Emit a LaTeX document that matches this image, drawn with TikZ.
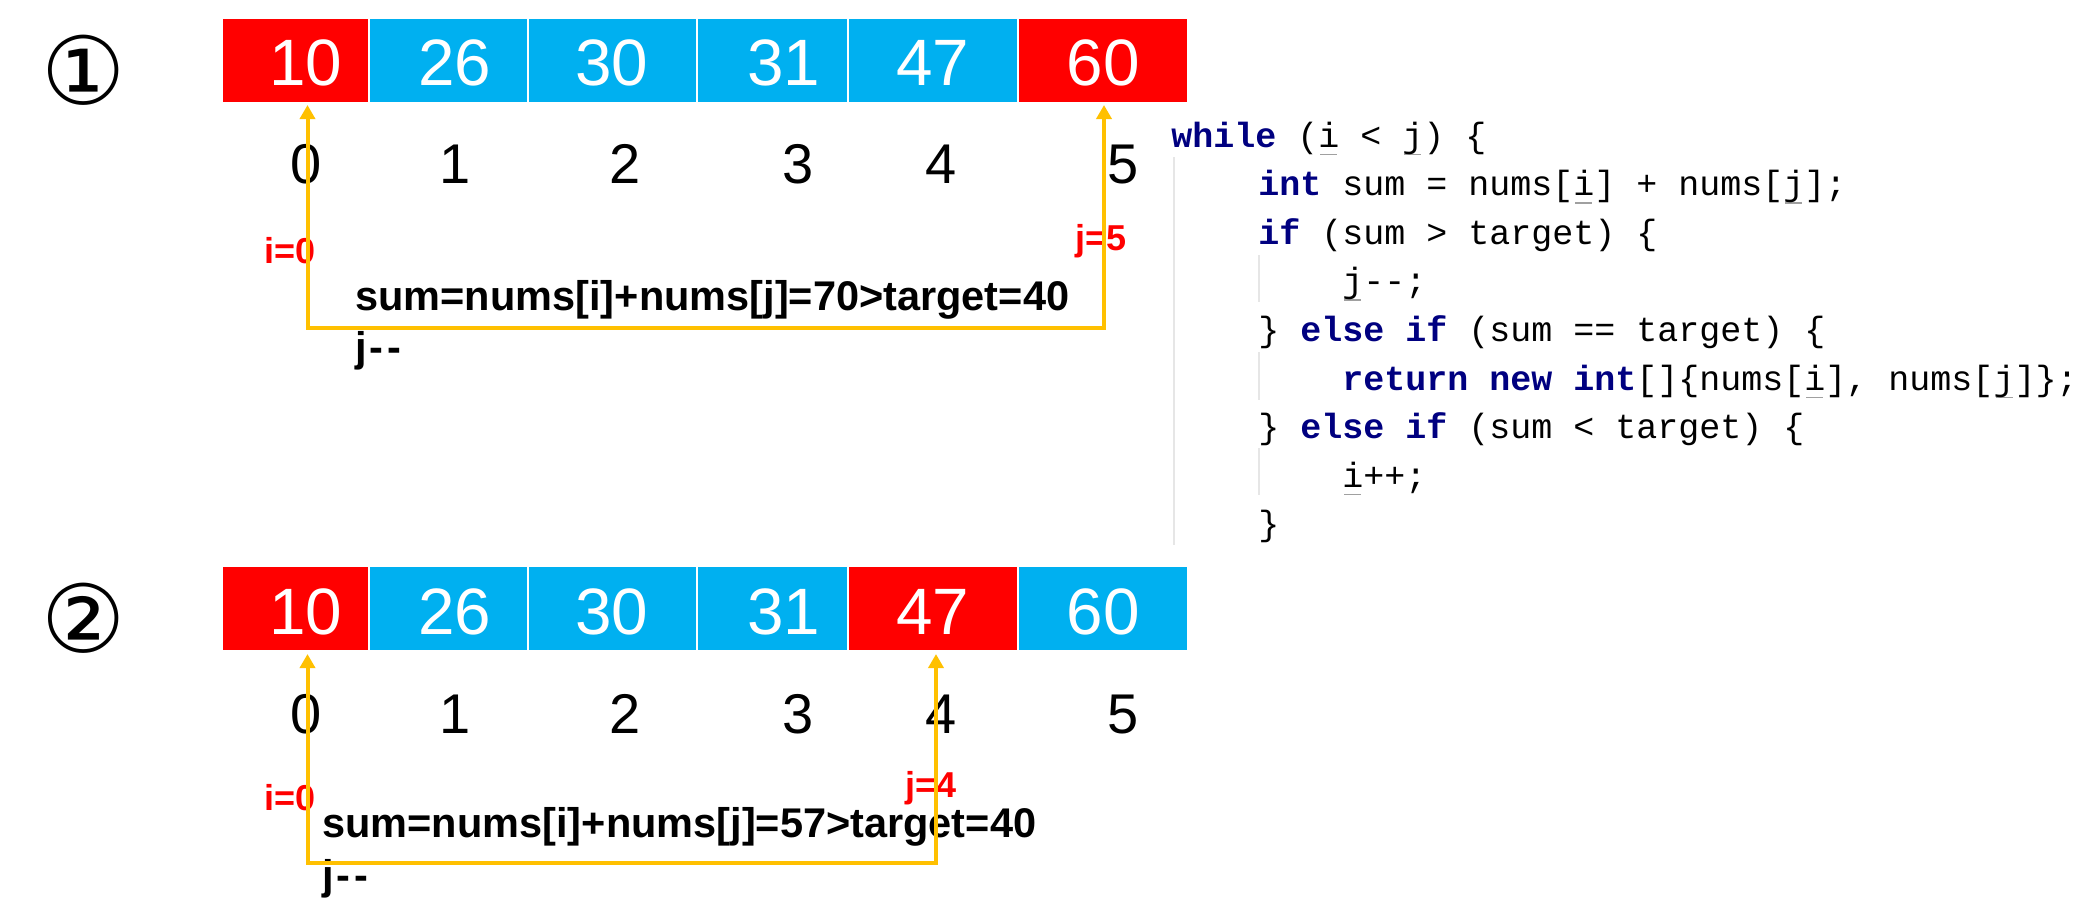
\documentclass[tikz,border=0pt]{standalone}
\usepackage{fontspec}
\setmainfont{Liberation Sans}
\newfontfamily\codefont{Liberation Mono}
\newfontfamily\circfont{DejaVu Sans}
\usetikzlibrary{arrows.meta}
\definecolor{cred}{HTML}{FF0000}
\definecolor{cblue}{HTML}{00B0F0}
\definecolor{cyel}{HTML}{FFC000}
\definecolor{kw}{HTML}{000080}
\definecolor{guide}{HTML}{E6E6E6}
\definecolor{ulgray}{HTML}{A0A0A0}
\newcommand\kwd[1]{\textcolor{kw}{\bfseries #1}}
\newcommand\ulc[1]{\leavevmode\rlap{\kern1pt\textcolor{ulgray}{\rule[-4pt]{8.5pt}{0.7pt}}}#1}
\tikzset{
  cell/.style={rectangle, draw=white, line width=1pt, inner sep=0pt, minimum height=42.5pt},
  num/.style={text=white, font=\fontsize{32.8}{36}\selectfont, anchor=base, inner sep=0pt},
  idx/.style={font=\fontsize{28}{30}\selectfont, anchor=base, inner sep=0pt},
  lab/.style={text=cred, font=\bfseries\fontsize{18}{20}\selectfont, anchor=base west, inner sep=0pt},
  sumtxt/.style={font=\bfseries\fontsize{20.75}{24}\selectfont, anchor=base west, inner sep=0pt},
  code/.style={font=\codefont\fontsize{17.5}{20}\selectfont, anchor=base west, inner sep=0pt},
  circ/.style={font=\circfont\fontsize{47}{47}\selectfont, inner sep=0pt},
  yarrow/.style={draw=cyel, line width=2pt, arrows={Triangle[width=7.5pt,length=7pt]-Triangle[width=7.5pt,length=7pt]}},
  guideline/.style={draw=guide, line width=0.6pt}
}
\begin{document}
\begin{tikzpicture}[x=0.5pt,y=-0.5pt]
\useasboundingbox (0,0) rectangle (2095,923);
% ---------- part 1 ----------
\node[circ] (s1) at (84,70) {①};
\node[cell, fill=cred,  minimum width=73.5pt] (c11) at (295.5,60.5) {};
\node[cell, fill=cblue, minimum width=79.5pt] (c12) at (448.5,60.5) {};
\node[cell, fill=cblue, minimum width=84.5pt] (c13) at (612.5,60.5) {};
\node[cell, fill=cblue, minimum width=75.5pt] (c14) at (772.5,60.5) {};
\node[cell, fill=cblue, minimum width=85pt]   (c15) at (933,60.5) {};
\node[cell, fill=cred,  minimum width=85pt]   (c16) at (1103,60.5) {};
\node[num] (n11) at (306,85) {10};
\node[num] (n12) at (455,85) {26};
\node[num] (n13) at (612,85) {30};
\node[num] (n14) at (784,85) {31};
\node[num] (n15) at (933,85) {47};
\node[num] (n16) at (1103,85) {60};
\node[idx] (x10) at (306,183) {0};
\node[idx] (x11) at (455,183) {1};
\node[idx] (x12) at (625,183) {2};
\node[idx] (x13) at (798,183) {3};
\node[idx] (x14) at (941,183) {4};
\node[idx] (x15) at (1123,183) {5};
\node[lab] (li1) at (264,263) {i=0};
\node[lab] (lj1) at (1075,250) {j=5};
\node[sumtxt] (sum1) at (355,310) {sum=nums[i]+nums[j]=70>target=40};
\node[sumtxt] (dec1) at (355,361) {j\kern1.5pt-\kern2pt-};
\coordinate (ta1) at (307.5,105);
\coordinate (tb1) at (1104,105);
\coordinate (ba1) at (307.5,328);
\coordinate (bb1) at (1104,328);
\draw[yarrow] (ta1) -- (ba1) -- (bb1) -- (tb1);
% ---------- part 2 ----------
\node[circ] (s2) at (84,618) {②};
\node[cell, fill=cred,  minimum width=73.5pt] (c21) at (295.5,608.5) {};
\node[cell, fill=cblue, minimum width=79.5pt] (c22) at (448.5,608.5) {};
\node[cell, fill=cblue, minimum width=84.5pt] (c23) at (612.5,608.5) {};
\node[cell, fill=cblue, minimum width=75.5pt] (c24) at (772.5,608.5) {};
\node[cell, fill=cred,  minimum width=85pt]   (c25) at (933,608.5) {};
\node[cell, fill=cblue, minimum width=85pt]   (c26) at (1103,608.5) {};
\node[num] (n21) at (306,634) {10};
\node[num] (n22) at (455,634) {26};
\node[num] (n23) at (612,634) {30};
\node[num] (n24) at (784,634) {31};
\node[num] (n25) at (933,634) {47};
\node[num] (n26) at (1103,634) {60};
\node[idx] (x20) at (306,733) {0};
\node[idx] (x21) at (455,733) {1};
\node[idx] (x22) at (625,733) {2};
\node[idx] (x23) at (798,733) {3};
\node[idx] (x24) at (941,733) {4};
\node[idx] (x25) at (1123,733) {5};
\node[lab] (li2) at (264,810) {i=0};
\node[lab] (lj2) at (905,797) {j=4};
\node[sumtxt] (sum2) at (322,837) {sum=nums[i]+nums[j]=57>target=40};
\node[sumtxt] (dec2) at (322,889) {j\kern1.5pt-\kern2pt-};
\coordinate (ta2) at (307.5,654);
\coordinate (tb2) at (936,654);
\coordinate (ba2) at (307.5,863);
\coordinate (bb2) at (936,863);
\draw[yarrow] (ta2) -- (ba2) -- (bb2) -- (tb2);
% ---------- code ----------
\coordinate (g0t) at (1174,157);
\coordinate (g0b) at (1174,545);
\draw[guideline] (g0t) -- (g0b);
\coordinate (g1t) at (1259,255);
\coordinate (g1b) at (1259,302);
\draw[guideline] (g1t) -- (g1b);
\coordinate (g2t) at (1259,352);
\coordinate (g2b) at (1259,400);
\draw[guideline] (g2t) -- (g2b);
\coordinate (g3t) at (1259,448);
\coordinate (g3b) at (1259,495);
\draw[guideline] (g3t) -- (g3b);
\node[code] (l1) at (1171,147) {\kwd{while} (\ulc{i} < \ulc{j}) \{};
\node[code] (l2) at (1258,195.6) {\kwd{int} sum = nums[\ulc{i}] + nums[\ulc{j}];};
\node[code] (l3) at (1258,244.2) {\kwd{if} (sum > target) \{};
\node[code] (l4) at (1342,292.8) {\ulc{j}-\kern0pt-;};
\node[code] (l5) at (1258,341.4) {\} \kwd{else} \kwd{if} (sum == target) \{};
\node[code] (l6) at (1342,390) {\kwd{return} \kwd{new} \kwd{int}[]\{nums[\ulc{i}], nums[\ulc{j}]\};};
\node[code] (l7) at (1258,438.6) {\} \kwd{else} \kwd{if} (sum < target) \{};
\node[code] (l8) at (1342,487.2) {\ulc{i}++;};
\node[code] (l9) at (1258,535.8) {\}};
\end{tikzpicture}
\end{document}
